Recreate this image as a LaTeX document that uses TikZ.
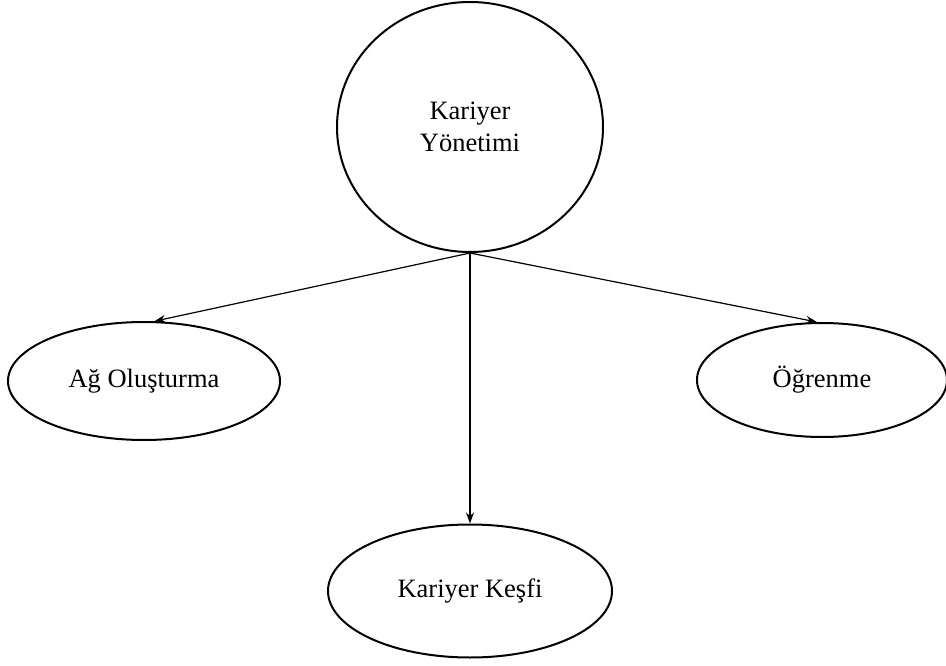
\documentclass[tikz,border=0pt]{standalone}
\usepackage{fontspec}
\setmainfont{Liberation Serif}
\usetikzlibrary{shapes.geometric,arrows.meta}
\begin{document}
\begin{tikzpicture}[x=1pt,y=-1pt,
  shapenode/.style={ellipse,draw,line width=2pt,inner sep=0pt,align=center,
    font=\fontsize{26.5pt}{31.7pt}\selectfont},
  conn/.style={line width=1.2pt,-{Stealth[length=11pt,width=8pt]}}]
\useasboundingbox (0,0) rectangle (946,666);
\node[shapenode,minimum width=266pt,minimum height=250pt] (top) at (470,127) {Kariyer\\Yönetimi};
\node[shapenode,minimum width=272pt,minimum height=118pt] (left) at (144,381) {Ağ Oluşturma};
\node[shapenode,minimum width=250pt,minimum height=114pt] (right) at (822,380) {Öğrenme};
\node[shapenode,minimum width=284pt,minimum height=133pt] (bottom) at (470,591) {Kariyer Keşfi};
\draw[conn] (top.south) -- (left.80);
\draw[conn] (top.south) -- (bottom.north);
\draw[conn] (top.south) -- (right.95);
\end{tikzpicture}
\end{document}
